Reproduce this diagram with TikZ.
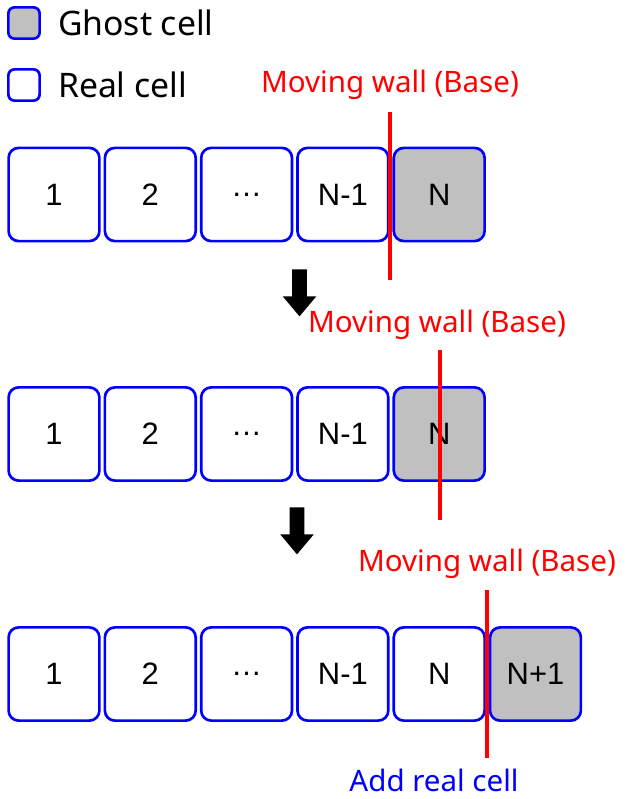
\documentclass[tikz,border=0pt]{standalone}
\usepackage{fontspec}
\setmainfont{Noto Sans}
\newfontfamily\cellfont{Liberation Sans}
\usetikzlibrary{positioning,shapes.arrows}
\definecolor{cellBlue}{RGB}{0,0,255}
\definecolor{wallRed}{RGB}{255,0,0}
\definecolor{ghostGray}{RGB}{192,192,192}

\begin{document}
\begin{tikzpicture}[x=0.025cm,y=-0.025cm,
    cell/.style={draw=cellBlue,line width=1.9pt,rounded corners=0.25cm,fill=white,minimum width=2.27cm,minimum height=2.33cm,inner sep=0pt,font=\cellfont\fontsize{22}{26}\selectfont},
    ghost/.style={cell,fill=ghostGray},
    keybox/.style={draw=cellBlue,line width=1.9pt,rounded corners=0.15cm,minimum size=0.78cm,inner sep=0pt},
    keytext/.style={inner sep=0pt,font=\fontsize{24}{28}\selectfont},
    walllabel/.style={inner sep=0pt,text=wallRed,font=\fontsize{21}{25}\selectfont},
    wall/.style={draw=wallRed,line width=2.8pt},
    downarrow/.style={single arrow,fill=black,rotate=-90,inner xsep=0pt,inner ysep=0.175cm,minimum height=1.175cm,minimum width=0.825cm,single arrow head extend=0.2375cm,single arrow tip angle=80}
  ]
  \useasboundingbox (0,0) rectangle (638,799);

  % legend
  \node[keybox,fill=ghostGray] (keyghost) at (24,23) {};
  \node[keytext,right=0.42cm of keyghost] (keyghosttxt) {Ghost cell};
  \node[keybox] (keyreal) at (24,85) {};
  \node[keytext,right=0.42cm of keyreal] (keyrealtxt) {Real cell};

  % step 1
  \node[cell] (a1) at (54,194.5) {1};
  \node[cell,right=0.07cm of a1] (a2) {2};
  \node[cell,right=0.07cm of a2] (a3) {…};
  \node[cell,right=0.07cm of a3] (a4) {N-1};
  \node[ghost,right=0.07cm of a4] (a5) {N};
  \coordinate (w1top) at (390,112);
  \coordinate (w1bot) at (390,280);
  \draw[wall] (w1top) -- (w1bot);
  \node[walllabel,above=0.3cm of w1top] (w1lab) {Moving wall (Base)};

  \node[downarrow] (arr1) at (299.5,288.5) {};

  % step 2
  \node[cell] (b1) at (54,434) {1};
  \node[cell,right=0.07cm of b1] (b2) {2};
  \node[cell,right=0.07cm of b2] (b3) {…};
  \node[cell,right=0.07cm of b3] (b4) {N-1};
  \node[ghost,right=0.07cm of b4] (b5) {N};
  \coordinate (w2top) at (440,350);
  \coordinate (w2bot) at (440,520);
  \draw[wall] (w2top) -- (w2bot);
  \node[walllabel,above=0.25cm of w2top,xshift=-0.075cm] (w2lab) {Moving wall (Base)};

  \node[downarrow] (arr2) at (297,526.5) {};

  % step 3
  \node[cell] (c1) at (54,674) {1};
  \node[cell,right=0.07cm of c1] (c2) {2};
  \node[cell,right=0.07cm of c2] (c3) {…};
  \node[cell,right=0.07cm of c3] (c4) {N-1};
  \node[cell,right=0.07cm of c4] (c5) {N};
  \node[ghost,right=0.07cm of c5] (c6) {N+1};
  \coordinate (w3top) at (487,590);
  \coordinate (w3bot) at (487,758);
  \draw[wall] (w3top) -- (w3bot);
  \node[walllabel,above=0.27cm of w3top] (w3lab) {Moving wall (Base)};
  \node[walllabel,text=cellBlue] (addlab) at (434,780) {Add real cell};
\end{tikzpicture}
\end{document}
